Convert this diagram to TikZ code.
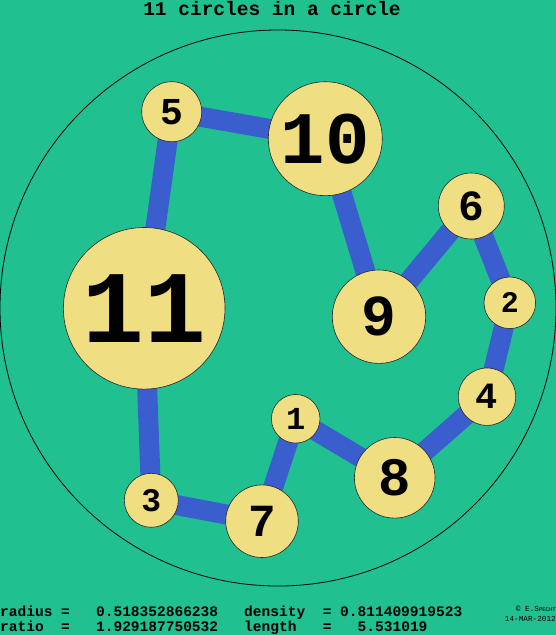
\documentclass[tikz,border=0pt]{standalone}
\usepackage{fontspec}
\newfontfamily\lmono{Liberation Mono}
\usetikzlibrary{backgrounds}
\definecolor{bggreen}{RGB}{32,192,144}
\definecolor{disc}{RGB}{240,222,130}
\definecolor{chain}{RGB}{59,94,206}
\tikzset{
  disk/.style 2 args={circle, draw=black!85, line width=0.6pt, fill=disc,
    inner sep=0pt, minimum size=#1pt, font=\lmono\bfseries\fontsize{#2}{#2}\selectfont},
  link/.style={draw=chain, line width=20pt},
  info/.style={anchor=base west, inner sep=0pt, font=\lmono\bfseries\fontsize{14.53}{15}\selectfont},
  tiny/.style={anchor=base east, inner sep=0pt, font=\lmono\fontsize{7.7}{8}\selectfont},
  ttl/.style={anchor=base, inner sep=0pt, font=\lmono\bfseries\fontsize{19.5}{20}\selectfont}
}
\begin{document}
\begin{tikzpicture}[x=1pt,y=-1pt]
\useasboundingbox (0,0) rectangle (556,635);
% disks
\node[disk={161.6}{103}] (n11) at (144.2,308.3) {11};
\node[disk={114}{74}]    (n10) at (325.3,138.7) {10};
\node[disk={93.4}{58}]   (n9)  at (379,316.7) {9};
\node[disk={80.6}{54}]   (n8)  at (394.7,477.8) {8};
\node[disk={72.6}{46}]   (n7)  at (262,521.2) {7};
\node[disk={66}{43}]     (n6)  at (471.3,206) {6};
\node[disk={60}{38}]     (n5)  at (171.7,111.7) {5};
\node[disk={57.4}{37}]   (n4)  at (487,396.7) {4};
\node[disk={54}{33}]     (n3)  at (151.3,500.3) {3};
\node[disk={51.6}{30}]   (n2)  at (509.8,302.8) {2};
\node[disk={48.6}{32}]   (n1)  at (295.7,418.8) {1};
% texts
\node[ttl] (title) at (272,15.2) {11 circles in a circle};
\node[info] (ra) at (0,616) {radius};
\node[info] (rb) at (61,616) {=};
\node[info] (rc) at (95.9,616) {0.518352866238};
\node[info] (da) at (244,616) {density};
\node[info] (db) at (322.6,616) {=};
\node[info] (dc) at (340,616) {0.811409919523};
\node[info] (ta) at (0,631) {ratio};
\node[info] (tb) at (61,631) {=};
\node[info] (tc) at (95.9,631) {1.929187750532};
\node[info] (la) at (244,631) {length};
\node[info] (lb) at (322.6,631) {=};
\node[info] (lc) at (357.5,631) {5.531019};
\node[tiny] (cp) at (556,611.5) {© E.S{\fontsize{5.6}{6}\selectfont PECHT}};
\node[tiny] (dt) at (556,621) {14-MAR-2012};
\begin{pgfonlayer}{background}
  \fill[bggreen] (0,0) rectangle (556,635);
  \draw[line width=0.8pt, black] (278,308) circle[radius=278];
  \draw[link] (n11.center) -- (n5.center) -- (n10.center) -- (n9.center) -- (n6.center)
    -- (n2.center) -- (n4.center) -- (n8.center) -- (n1.center) -- (n7.center)
    -- (n3.center) -- (n11.center);
\end{pgfonlayer}
\end{tikzpicture}
\end{document}
